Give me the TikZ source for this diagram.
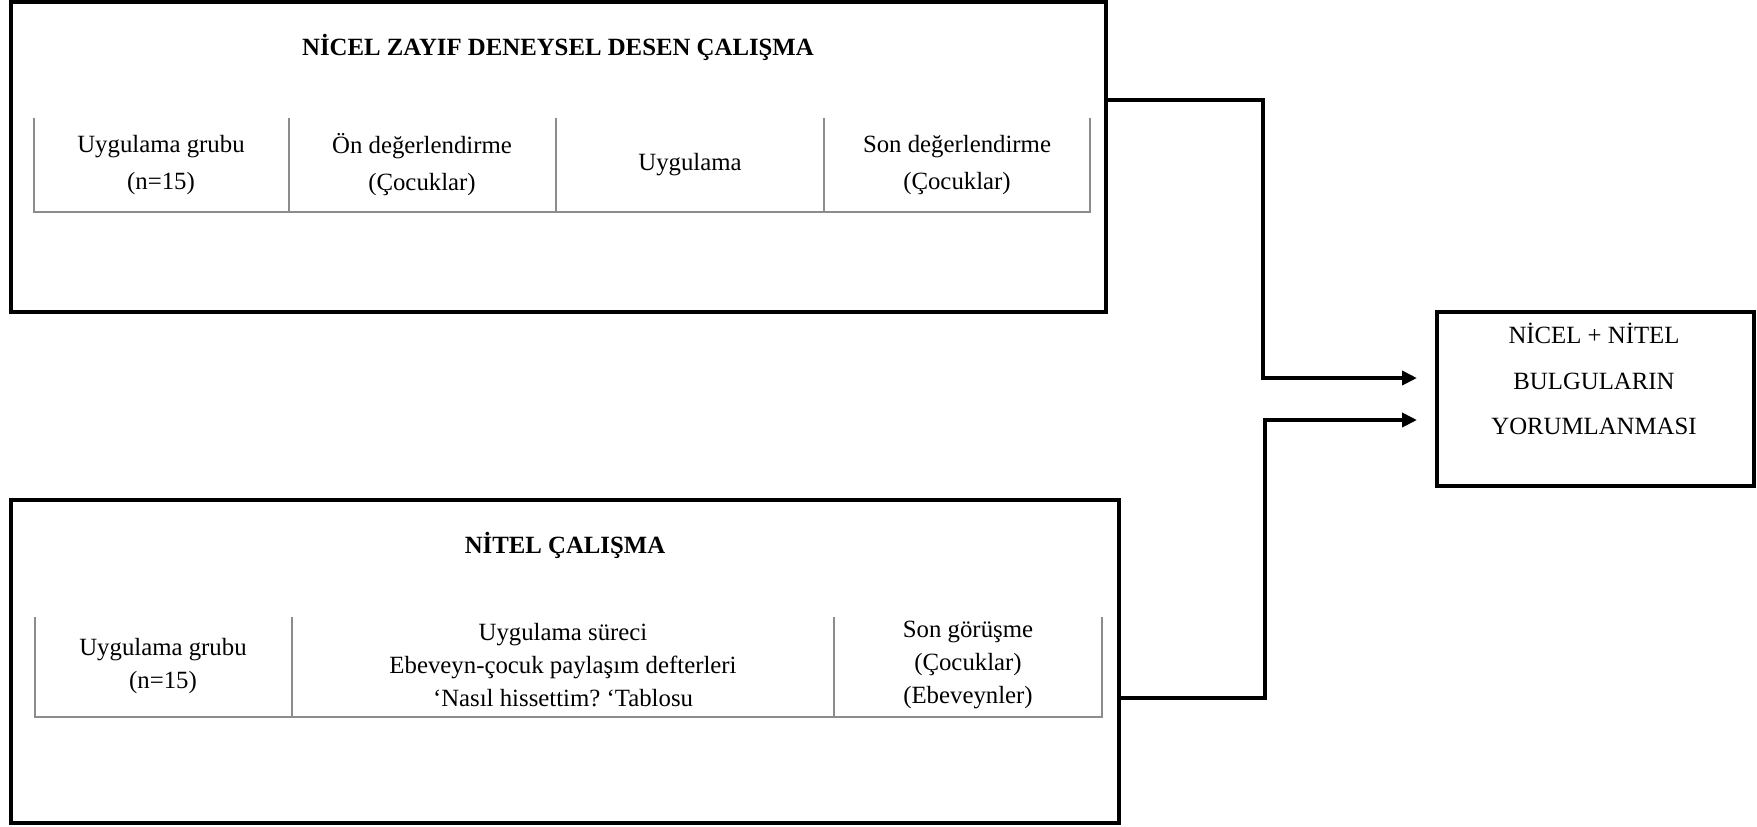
\documentclass[tikz,border=0pt]{standalone}
\usepackage{fontspec}
\setmainfont{Liberation Serif}
\usetikzlibrary{arrows.meta}
\frenchspacing
\begin{document}
\begin{tikzpicture}[x=0.5pt,y=-0.5pt,
  box/.style={draw, line width=2pt, inner sep=0pt},
  txt/.style={font=\fontsize{12.4}{16.6}\selectfont\frenchspacing, align=center, inner sep=0pt},
  txtw/.style={font=\fontsize{12.4}{18.5}\selectfont, align=center, inner sep=0pt},
  ttl/.style={font=\fontsize{12.4}{16.8}\selectfont\bfseries, align=center, inner sep=0pt},
  restxt/.style={font=\fontsize{12.4}{22.7}\selectfont, align=center, inner sep=0pt},
  tline/.style={draw=black!45, line width=0.6pt},
  conn/.style={line width=2pt, -{Triangle[length=7.5pt,width=7pt]}, shorten >=9pt}]
\useasboundingbox (0,0) rectangle (1757,826);

% boxes
\node[box, minimum width=547.5pt, minimum height=155pt] (quant) at (558.5,157) {};
\node[box, minimum width=554pt, minimum height=161.5pt] (qual) at (565,661.5) {};
\node[box, minimum width=158.5pt, minimum height=87pt] (res) at (1595.5,399) {};

% titles
\node[ttl] (t1) at (558,47) {NİCEL ZAYIF DENEYSEL DESEN ÇALIŞMA};
\node[ttl] (t2) at (565,545) {NİTEL ÇALIŞMA};
\node[restxt] (rt) at (1594,379) {NİCEL + NİTEL\\BULGULARIN\\YORUMLANMASI};

% top table
\draw[tline] (34,118) -- (34,212) -- (1090,212) -- (1090,118);
\draw[tline] (289,118) -- (289,212);
\draw[tline] (556,118) -- (556,212);
\draw[tline] (824,118) -- (824,212);
\node[txtw] (a1) at (161,165) {Uygulama grubu\\(n=15)};
\node[txtw] (a2) at (422,165) {Ön değerlendirme\\(Çocuklar)};
\node[txtw] (a3) at (690,165) {Uygulama};
\node[txtw] (a4) at (957,165) {Son değerlendirme\\(Çocuklar)};

% bottom table
\draw[tline] (35,617) -- (35,717) -- (1102,717) -- (1102,617);
\draw[tline] (292,617) -- (292,717);
\draw[tline] (834,617) -- (834,717);
\node[txt] (b1) at (163,666) {Uygulama grubu\\(n=15)};
\node[txt] (b2) at (563,665) {Uygulama süreci\\Ebeveyn-çocuk paylaşım defterleri\\‘Nasıl hissettim? ‘Tablosu};
\node[txt] (b3) at (968,665) {Son görüşme\\(Çocuklar)\\(Ebeveynler)};

% connectors
\coordinate (c1) at (1263,100);
\coordinate (c2) at (1265,420);
\draw[conn] (quant.east |- c1) -- (c1) |- ([yshift=10.5pt]res.west);
\draw[conn] ([yshift=-18.25pt]qual.east) -| (c2) -- ([yshift=-10.5pt]res.west);
\end{tikzpicture}
\end{document}
